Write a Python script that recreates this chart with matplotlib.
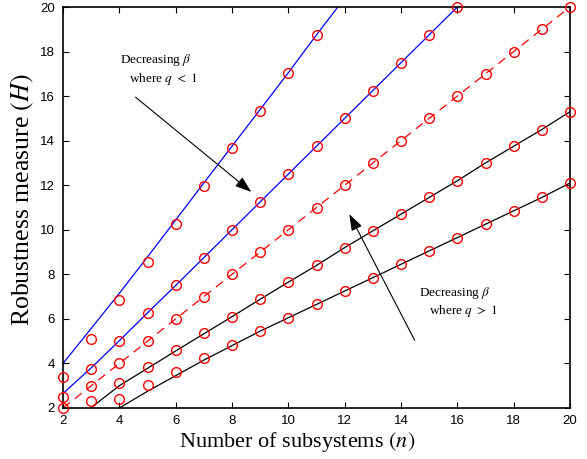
import matplotlib
matplotlib.use("Agg")
import matplotlib.pyplot as plt

plt.rcParams['mathtext.fontset'] = 'stix'

# ---- data ----
# analytical points (red circles)
circ_blue1_x = [2, 3, 4, 5, 6, 7, 8, 9, 10, 11]
circ_blue1_y = [3.4, 5.1, 6.85, 8.55, 10.25, 11.95, 13.65, 15.35, 17.05, 18.75]
circ_blue2_x = list(range(2, 17))
circ_blue2_y = [2.5, 3.75, 5.0, 6.25, 7.5, 8.75, 10.0, 11.25, 12.5, 13.75, 15.0, 16.25, 17.5, 18.75, 20.0]
circ_red_x = list(range(2, 21))
circ_red_y = list(range(2, 21))
circ_black1_x = list(range(3, 21))
circ_black1_y = [2.3, 3.1, 3.85, 4.6, 5.35, 6.1, 6.9, 7.65, 8.4, 9.2, 9.95, 10.7, 11.45, 12.2, 13.0, 13.75, 14.5, 15.3]
circ_black2_x = list(range(4, 21))
circ_black2_y = [2.4, 3.05, 3.6, 4.25, 4.85, 5.45, 6.05, 6.65, 7.25, 7.85, 8.45, 9.05, 9.65, 10.25, 10.85, 11.45, 12.1]

# simulated curves (lines)
line_blue1_x = [2, 3, 4, 5, 6, 7, 8, 9, 10, 11, 12]
line_blue1_y = [4.0, 5.57, 7.15, 8.78, 10.44, 12.1, 13.75, 15.4, 17.05, 18.75, 20.4]
line_blue2_x = list(range(2, 17))
line_blue2_y = [2.65, 3.8, 5.02, 6.27, 7.5, 8.75, 10.0, 11.25, 12.5, 13.75, 15.0, 16.25, 17.5, 18.75, 20.0]
line_red_x = [2, 20]
line_red_y = [2, 20]
line_black1_x = list(range(3, 21))
line_black1_y = [2.02, 3.0, 3.78, 4.56, 5.33, 6.1, 6.88, 7.65, 8.4, 9.2, 9.95, 10.7, 11.45, 12.2, 13.0, 13.75, 14.5, 15.3]
line_black2_x = list(range(4, 21))
line_black2_y = [2.0, 2.75, 3.45, 4.15, 4.8, 5.45, 6.05, 6.65, 7.25, 7.85, 8.45, 9.05, 9.65, 10.25, 10.85, 11.45, 12.1]

xticks = list(range(2, 21, 2))
yticks = list(range(2, 21, 2))

fig = plt.figure(figsize=(5.87, 4.59), dpi=100)
ax = fig.add_axes([63/587, 1-408/459, (570-63)/587, (408-7)/459])

ax.plot(line_blue1_x, line_blue1_y, color='#0000ff', lw=0.9)
ax.plot(line_blue2_x, line_blue2_y, color='#0000ff', lw=0.9)
ax.plot(line_red_x, line_red_y, color='#ff0000', lw=0.9, ls=(0, (7, 5)))
ax.plot(line_black1_x, line_black1_y, color='black', lw=0.9)
ax.plot(line_black2_x, line_black2_y, color='black', lw=0.9)

for cx, cy in [(circ_blue1_x, circ_blue1_y), (circ_blue2_x, circ_blue2_y),
               (circ_red_x, circ_red_y), (circ_black1_x, circ_black1_y),
               (circ_black2_x, circ_black2_y)]:
    ax.plot(cx, cy, ls='none', marker='o', ms=7, mfc='none', mec='#ff0000',
            mew=1.0, clip_on=False, zorder=4)

ax.set_xlim(2, 20)
ax.set_ylim(2, 20)
ax.set_xticks(xticks)
ax.set_yticks(yticks)
ax.tick_params(direction='in', top=True, right=True, length=4, width=0.8,
               labelsize=9.5)
ax.tick_params(axis='x', pad=5)
ax.tick_params(axis='y', pad=6)
for lab in ax.get_xticklabels() + ax.get_yticklabels():
    lab.set_family('Liberation Sans')
for s in ax.spines.values():
    s.set_linewidth(1.2)

ax.set_xlabel(r'Number of subsystems $(n)$', family='Liberation Serif', fontsize=16)
ax.xaxis.set_label_coords(0.462, -0.085, transform=ax.transAxes)
ax.xaxis.label.set_va('center')
ax.set_ylabel(r'Robustness measure $(H)$', family='Liberation Serif', fontsize=18.5)
ax.yaxis.set_label_coords(-0.08, 0.52, transform=ax.transAxes)
ax.yaxis.label.set_va('center')

# annotations
ax.annotate('', xy=(8.76, 11.62), xytext=(4.5, 16.03),
            arrowprops=dict(arrowstyle='-|>,head_length=1.0,head_width=0.35', color='black', lw=0.8))
ax.annotate('', xy=(12.12, 10.81), xytext=(14.53, 4.93),
            arrowprops=dict(arrowstyle='-|>,head_length=1.0,head_width=0.35', color='black', lw=0.8))
ax.text(5.3, 17.63, r'Decreasing $\beta$', family='Liberation Serif', fontsize=9.5, ha='center', va='center')
ax.text(5.55, 16.78, r'where $q\ <\ 1$', family='Liberation Serif', fontsize=9.5, ha='center', va='center')
ax.text(15.92, 7.16, r'Decreasing $\beta$', family='Liberation Serif', fontsize=9.5, ha='center', va='center')
ax.text(16.23, 6.34, r'where $q\ >\ 1$', family='Liberation Serif', fontsize=9.5, ha='center', va='center')

fig.savefig('out.png', dpi=100)
